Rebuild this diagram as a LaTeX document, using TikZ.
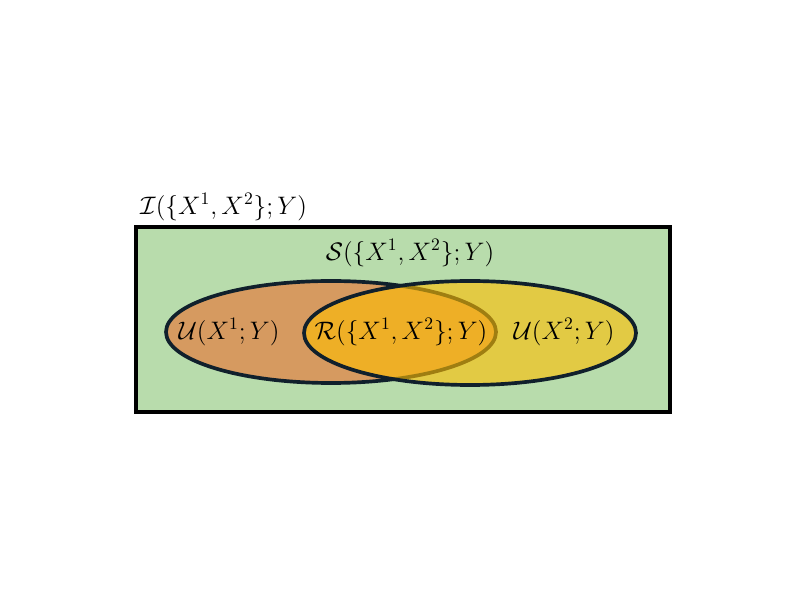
\documentclass[tikz,border=0pt]{standalone}
\usepackage{amsmath}
\usetikzlibrary{shapes.geometric}

\definecolor{boxgreen}{RGB}{184,220,172}
\definecolor{uniqone}{RGB}{214,154,96}
\definecolor{uniqtwo}{RGB}{255,190,0}
\definecolor{rimdark}{RGB}{16,32,44}

\tikzset{
  blob/.style={ellipse, draw=rimdark, line width=2.1pt, inner sep=0pt},
  lbl/.style={font=\fontsize{14.5}{17}\selectfont}
}

\begin{document}
\begin{tikzpicture}[x=0.2mm,y=-0.2mm]
\useasboundingbox (0,0) rectangle (800,600);

\coordinate (BoxA) at (136,227); \coordinate (BoxB) at (670,412);
\coordinate (CL) at (331,332); \coordinate (CR) at (470,333);

\fill [boxgreen] (BoxA) rectangle (BoxB);

\node [blob, fill=uniqone, minimum width=66mm, minimum height=20.4mm] (EL) at (CL) {};
\node [blob, fill=uniqtwo, fill opacity=0.6, minimum width=66.4mm, minimum height=20.8mm] (ER) at (CR) {};

\draw [line width=2.2pt] (BoxA) rectangle (BoxB);

\node [lbl, anchor=west] (info) at (134,207) {$\mathcal{I}(\{X^1,X^2\};Y)$};
\node [lbl] (syn) at (410,253) {$\mathcal{S}(\{X^1,X^2\};Y)$};
\node [lbl] (uone) at (229,332) {$\mathcal{U}(X^1;Y)$};
\node [lbl] (red) at (401,332) {$\mathcal{R}(\{X^1,X^2\};Y)$};
\node [lbl] (utwo) at (564,332) {$\mathcal{U}(X^2;Y)$};

\end{tikzpicture}
\end{document}
